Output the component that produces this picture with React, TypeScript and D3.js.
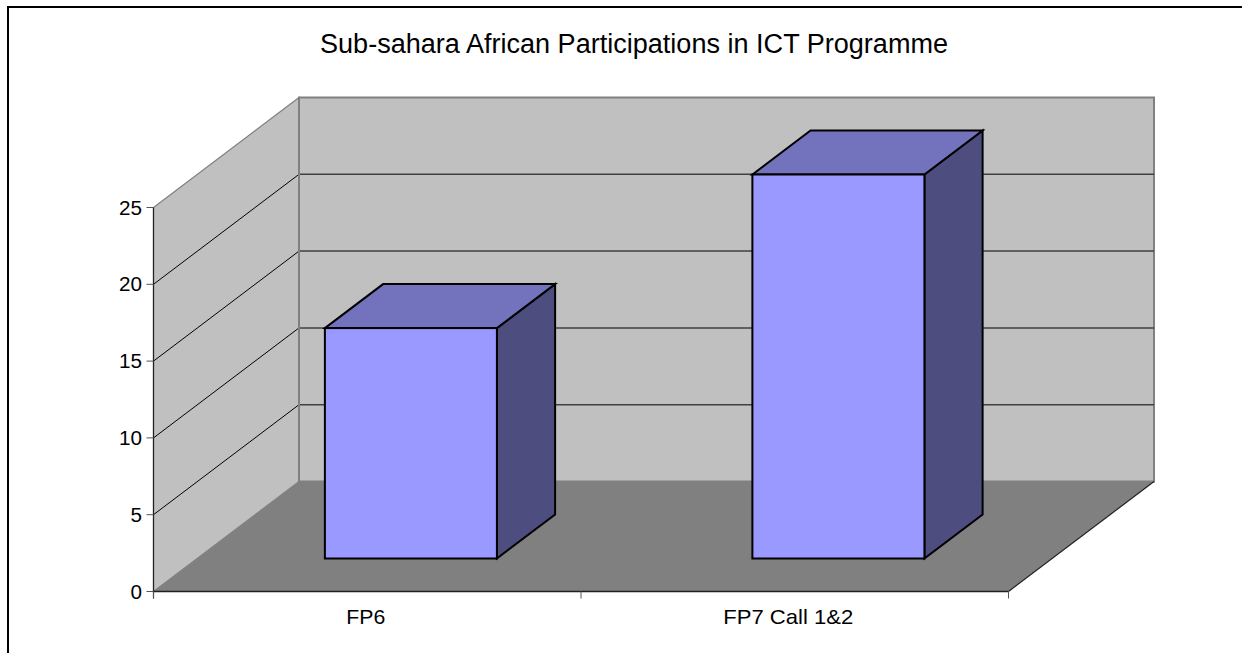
import * as d3 from 'd3'

// Chart data
const title = 'Sub-sahara African Participations in ICT Programme'
const categories = ['FP6', 'FP7 Call 1&2']
const values = [15, 25]
const yTicks = [0, 5, 10, 15, 20, 25]

const FONT = '"Liberation Sans", Arial, sans-serif'

// Plot frame of the fake 3D box (front plane + depth offset)
const WIDTH = 1242
const HEIGHT = 653
const front = { left: 153.5, right: 1008.5, top: 207.5, bottom: 591.5 }
const depth = { dx: 145.5, dy: -110 }

// Bars sit 30% into the floor depth and take 40% of it
const BAR_OFFSET = 0.3
const BAR_DEPTH = 0.4

const COLORS = {
  wall: '#c0c0c0',
  wallEdge: '#808080',
  floor: '#808080',
  barFront: '#9999ff',
  barTop: '#7373bd',
  barSide: '#4d4d7f',
}

// The original renderer squeezes the labels a bit, so pin their widths
const labelLayout: Record<string, { shift: number; length: number }> = {
  'FP6': { shift: -1.5, length: 39 },
  'FP7 Call 1&2': { shift: -6.5, length: 130 },
}

function pts(list: [number, number][]) {
  return list.map(p => p.join(',')).join(' ')
}

export default function App() {
  const x = d3.scaleBand<string>()
    .domain(categories)
    .range([front.left, front.right])

  const y = d3.scaleLinear()
    .domain([0, 25])
    .range([front.bottom, front.top])

  const barWidth = x.bandwidth() * 0.4024
  const { dx, dy } = depth

  return (
    <svg
      width={WIDTH}
      height={HEIGHT}
      style={{ position: 'absolute', left: 0, top: 0, display: 'block' }}
      fontFamily={FONT}
    >
      <rect x={0} y={0} width={WIDTH} height={HEIGHT} fill="#fff" />
      {/* outer frame: only top and left are in view */}
      <line x1={8} y1={7} x2={WIDTH} y2={7} stroke="#000" strokeWidth={2} />
      <line x1={8} y1={6} x2={8} y2={HEIGHT} stroke="#000" strokeWidth={2} />

      <text x={634} y={53} textAnchor="middle" fontSize={27} textLength={628} lengthAdjust="spacingAndGlyphs" fill="#000">{title}</text>

      {/* back wall */}
      <rect
        x={front.left + dx}
        y={front.top + dy}
        width={front.right - front.left}
        height={front.bottom - front.top}
        fill={COLORS.wall}
        stroke={COLORS.wallEdge}
        strokeWidth={2}
      />
      {/* side wall */}
      <polygon
        points={pts([
          [front.left, front.top],
          [front.left + dx, front.top + dy],
          [front.left + dx, front.bottom + dy],
          [front.left, front.bottom],
        ])}
        fill={COLORS.wall}
        stroke={COLORS.wallEdge}
        strokeWidth={1.2}
      />
      {/* floor */}
      <polygon
        points={pts([
          [front.left, front.bottom],
          [front.left + dx, front.bottom + dy],
          [front.right + dx, front.bottom + dy],
          [front.right, front.bottom],
        ])}
        fill={COLORS.floor}
      />

      {/* gridlines */}
      {yTicks.filter(t => t > 0 && t < 25).map(t => (
        <g key={t} fill="none">
          <line x1={front.left} y1={y(t)} x2={front.left + dx} y2={y(t) + dy} stroke="#000" strokeWidth={1} />
          <line x1={front.left + dx} y1={y(t) + dy} x2={front.right + dx} y2={y(t) + dy} stroke="#404040" strokeWidth={1.5} />
        </g>
      ))}
      <line x1={front.left + dx} y1={front.top + dy} x2={front.left + dx} y2={front.bottom + dy} stroke={COLORS.wallEdge} strokeWidth={2} />

      {/* floor edge */}
      <line x1={front.right} y1={front.bottom} x2={front.right + dx} y2={front.bottom + dy} stroke="#202020" strokeWidth={1.2} />

      {/* bars */}
      {categories.map((c, i) => {
        const x0 = (x(c) as number) + (x.bandwidth() - barWidth) / 2 + dx * BAR_OFFSET
        const x1 = x0 + barWidth
        const yBase = front.bottom + dy * BAR_OFFSET
        const yTop = yBase - (front.bottom - y(values[i]))
        const ddx = dx * BAR_DEPTH
        const ddy = dy * BAR_DEPTH
        const stroke = { stroke: '#000', strokeWidth: 2, strokeLinejoin: 'miter' as const }
        return (
          <g key={c}>
            <polygon
              points={pts([[x1, yTop], [x1 + ddx, yTop + ddy], [x1 + ddx, yBase + ddy], [x1, yBase]])}
              fill={COLORS.barSide}
              {...stroke}
            />
            <polygon
              points={pts([[x0, yTop], [x0 + ddx, yTop + ddy], [x1 + ddx, yTop + ddy], [x1, yTop]])}
              fill={COLORS.barTop}
              {...stroke}
            />
            <rect x={x0} y={yTop} width={barWidth} height={yBase - yTop} fill={COLORS.barFront} {...stroke} />
          </g>
        )
      })}

      {/* value axis */}
      <line x1={front.left} y1={front.top} x2={front.left} y2={front.bottom + 7} stroke="#202020" strokeWidth={1.2} />
      {yTicks.map(t => (
        <g key={t}>
          <line x1={front.left - 7} y1={y(t)} x2={front.left} y2={y(t)} stroke="#555" strokeWidth={1} />
          <text x={142} y={y(t) + 7} textAnchor="end" fontSize={20.7} fill="#000">{t}</text>
        </g>
      ))}

      {/* category axis */}
      <line x1={front.left} y1={front.bottom} x2={front.right} y2={front.bottom} stroke="#202020" strokeWidth={1.5} />
      {x.domain().map(c => (
        <text
          key={c}
          x={(x(c) as number) + x.bandwidth() / 2 + labelLayout[c].shift}
          y={624}
          textAnchor="middle"
          fontSize={21}
          textLength={labelLayout[c].length}
          lengthAdjust="spacingAndGlyphs"
          fill="#000"
        >
          {c}
        </text>
      ))}
      {[...categories.map(c => x(c) as number), front.right].map(v => (
        <line key={v} x1={v} y1={front.bottom} x2={v} y2={front.bottom + 7} stroke="#555" strokeWidth={1} />
      ))}
    </svg>
  )
}
